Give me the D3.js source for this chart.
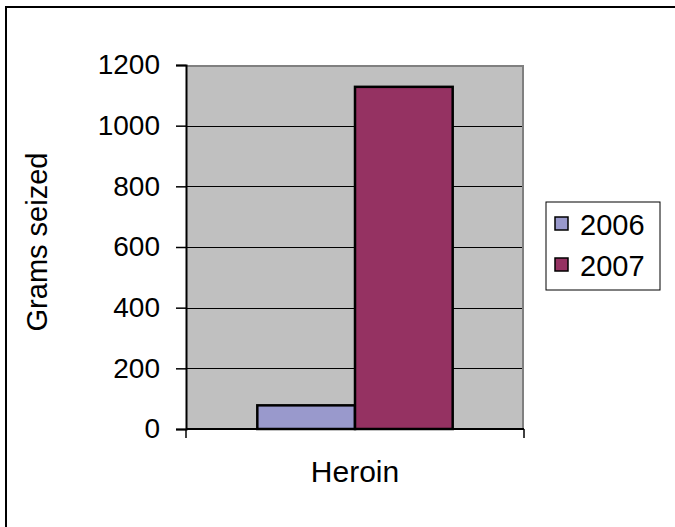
<!DOCTYPE html>
<meta charset="utf-8">
<style>
body { margin: 0; background: #fff; font-family: "Liberation Sans", Arial, sans-serif; }
</style>
<svg width="675" height="527"></svg>
<script src="https://cdn.jsdelivr.net/npm/d3@7"></script>
<script>

var categories = ["Heroin"];
var years = ["2006", "2007"];
var values2006 = [78];
var values2007 = [1128];
var yTicks = [0, 200, 400, 600, 800, 1000, 1200];
var colors = ["#9999cc", "#953262"];

var svg = d3.select("svg");

// outer chart border (runs off the right and bottom edges)
svg.append("rect")
    .attr("x", 6).attr("y", 7)
    .attr("width", 700).attr("height", 560)
    .attr("fill", "none")
    .attr("stroke", "#000")
    .attr("stroke-width", 2);

var pLeft = 186, pRight = 524, pTop = 65, pBottom = 429;

var y = d3.scaleLinear().domain([0, 1200]).range([pBottom, pTop]);
var x = d3.scaleBand().domain(categories).range([pLeft, pRight]).paddingInner(0).paddingOuter(0);
var xs = d3.scaleBand().domain(years).range([0, x.bandwidth()]).paddingInner(0).paddingOuter(0.73);

// plot background
svg.append("rect")
    .attr("x", pLeft).attr("y", pTop)
    .attr("width", pRight - pLeft).attr("height", pBottom - pTop)
    .attr("fill", "#c0c0c0");

svg.append("path")
    .attr("d", "M" + pLeft + "," + (pTop + 1) + "H" + (pRight - 1) + "V" + pBottom)
    .attr("fill", "none")
    .attr("stroke", "#808080")
    .attr("stroke-width", 2);

// gridlines
svg.append("g").selectAll("line")
  .data(yTicks.filter(function(d){ return d > 0 && d < 1200; }))
  .enter().append("line")
    .attr("x1", pLeft).attr("x2", pRight - 2)
    .attr("y1", function(d){ return Math.round(y(d)) + 0.5; })
    .attr("y2", function(d){ return Math.round(y(d)) + 0.5; })
    .attr("stroke", "#000");

// bars
var series = [values2006, values2007];
var g = svg.append("g");
categories.forEach(function(c, i) {
  years.forEach(function(yr, j) {
    g.append("rect")
      .attr("x", x(c) + xs(yr))
      .attr("y", y(series[j][i]))
      .attr("width", xs.bandwidth())
      .attr("height", pBottom - y(series[j][i]))
      .attr("fill", colors[j])
      .attr("stroke", "#000")
      .attr("stroke-width", 2.5);
  });
});

// y axis
var yAxis = svg.append("g")
    .attr("transform", "translate(" + pLeft + ",0)")
    .call(d3.axisLeft(y).tickValues(yTicks).tickFormat(d3.format("d")).tickSize(10).tickPadding(16));
yAxis.select(".domain").attr("stroke-width", 2);
yAxis.selectAll("text").attr("font-size", 28).attr("font-family", "Liberation Sans, Arial, sans-serif").attr("fill", "#000");
yAxis.selectAll("line").attr("stroke-width", 1.5);

// x axis
var xAxis = svg.append("g")
    .attr("transform", "translate(0," + pBottom + ")");
xAxis.append("line")
    .attr("x1", pLeft).attr("x2", pRight)
    .attr("stroke", "#000").attr("stroke-width", 2);
xAxis.selectAll("line.tick")
  .data([pLeft, pRight])
  .enter().append("line")
    .attr("class", "tick")
    .attr("x1", function(d){ return d; }).attr("x2", function(d){ return d; })
    .attr("y1", 0).attr("y2", 9)
    .attr("stroke", "#000").attr("stroke-width", 1.5);
xAxis.selectAll("text")
  .data(categories)
  .enter().append("text")
    .attr("x", function(d){ return x(d) + x.bandwidth() / 2; })
    .attr("y", 53)
    .attr("text-anchor", "middle")
    .attr("font-size", 30)
    .text(function(d){ return d; });

// y label
svg.append("text")
    .attr("transform", "translate(47,242) rotate(-90)")
    .attr("text-anchor", "middle")
    .attr("font-size", 29)
    .text("Grams seized");

// legend
var lg = svg.append("g").attr("transform", "translate(546,202)");
lg.append("rect")
    .attr("width", 114).attr("height", 88)
    .attr("fill", "#fff").attr("stroke", "#000").attr("stroke-width", 1);
years.forEach(function(yr, j) {
  lg.append("rect")
    .attr("x", 9).attr("y", 15 + j * 41)
    .attr("width", 13).attr("height", 13)
    .attr("fill", colors[j]).attr("stroke", "#000").attr("stroke-width", 1.5);
  lg.append("text")
    .attr("x", 34).attr("y", 33 + j * 41)
    .attr("font-size", 29)
    .text(yr);
});

</script>
